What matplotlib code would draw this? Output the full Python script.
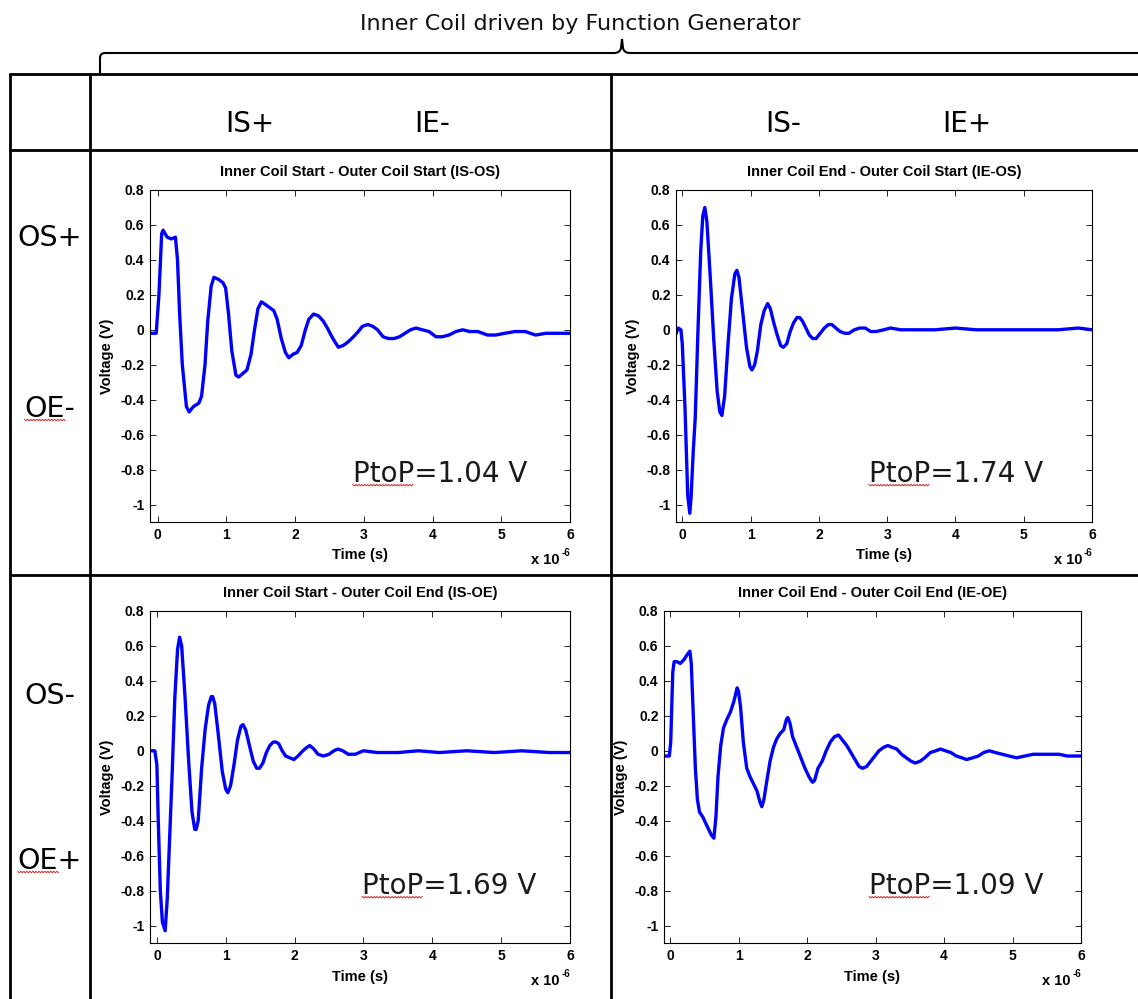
import numpy as np
import matplotlib.pyplot as plt
from matplotlib.lines import Line2D
from matplotlib.path import Path
from matplotlib.patches import PathPatch

W, H = 1138, 999

# scope traces: time in microseconds, voltage in volts
t_is_os = [-0.11, -0.02, 0.02, 0.06, 0.08, 0.14, 0.20, 0.26, 0.29, 0.32,
           0.36, 0.42, 0.46, 0.52, 0.60, 0.64, 0.69, 0.73, 0.78, 0.82,
           0.88, 0.95, 0.99, 1.03, 1.08, 1.14, 1.18, 1.24, 1.30, 1.36,
           1.41, 1.46, 1.51, 1.55, 1.62, 1.69, 1.74, 1.80, 1.86, 1.91,
           1.97, 2.03, 2.09, 2.15, 2.20, 2.27, 2.34, 2.41, 2.47, 2.55,
           2.63, 2.70, 2.77, 2.85, 2.92, 2.98, 3.06, 3.13, 3.20, 3.28,
           3.36, 3.44, 3.52, 3.60, 3.68, 3.76, 3.85, 3.95, 4.05, 4.14,
           4.24, 4.34, 4.44, 4.54, 4.66, 4.80, 4.92, 5.05, 5.20, 5.35,
           5.50, 5.65, 5.80, 5.92, 6.00]
v_is_os = [-0.02, -0.02, 0.20, 0.55, 0.57, 0.53, 0.52, 0.53, 0.40, 0.10,
           -0.20, -0.44, -0.47, -0.44, -0.42, -0.38, -0.20, 0.05, 0.25, 0.30,
           0.29, 0.27, 0.24, 0.10, -0.12, -0.26, -0.27, -0.25, -0.23, -0.14,
           0.00, 0.12, 0.16, 0.15, 0.13, 0.11, 0.06, -0.05, -0.13, -0.16,
           -0.14, -0.13, -0.09, 0.00, 0.06, 0.09, 0.08, 0.05, 0.01, -0.05,
           -0.10, -0.09, -0.07, -0.04, -0.01, 0.02, 0.03, 0.02, 0.00, -0.04,
           -0.05, -0.05, -0.04, -0.02, 0.00, 0.01, 0.00, -0.01, -0.04, -0.04,
           -0.03, -0.01, 0.00, -0.01, -0.01, -0.03, -0.03, -0.02, -0.01, -0.01,
           -0.03, -0.02, -0.02, -0.02, -0.02]

t_ie_os = [-0.09, -0.06, -0.02, 0.00, 0.04, 0.08, 0.11, 0.13, 0.16, 0.19,
           0.23, 0.27, 0.30, 0.33, 0.36, 0.41, 0.46, 0.51, 0.55, 0.58,
           0.62, 0.67, 0.72, 0.77, 0.80, 0.83, 0.88, 0.94, 0.99, 1.02,
           1.06, 1.10, 1.15, 1.20, 1.25, 1.29, 1.34, 1.39, 1.44, 1.48,
           1.53, 1.58, 1.63, 1.68, 1.72, 1.76, 1.81, 1.86, 1.91, 1.96,
           2.02, 2.08, 2.14, 2.19, 2.25, 2.31, 2.38, 2.44, 2.52, 2.60,
           2.68, 2.76, 2.84, 2.95, 3.05, 3.20, 3.40, 3.70, 4.00, 4.30,
           4.70, 5.10, 5.50, 5.80, 6.00]
v_ie_os = [-0.02, 0.01, 0.00, -0.08, -0.45, -0.95, -1.05, -0.95, -0.70, -0.50,
           0.00, 0.45, 0.65, 0.70, 0.62, 0.30, -0.05, -0.35, -0.47, -0.49,
           -0.38, -0.08, 0.18, 0.32, 0.34, 0.30, 0.12, -0.10, -0.21, -0.23,
           -0.20, -0.12, 0.03, 0.11, 0.15, 0.12, 0.04, -0.03, -0.09, -0.10,
           -0.08, -0.01, 0.04, 0.07, 0.07, 0.05, 0.01, -0.03, -0.05, -0.05,
           -0.02, 0.01, 0.03, 0.03, 0.01, -0.01, -0.02, -0.02, 0.00, 0.01,
           0.01, -0.01, -0.01, 0.00, 0.01, 0.00, 0.00, 0.00, 0.01, 0.00,
           0.00, 0.00, 0.00, 0.01, 0.00]

t_is_oe = [-0.10, -0.03, 0.00, 0.02, 0.05, 0.08, 0.12, 0.15, 0.18, 0.22,
           0.26, 0.30, 0.33, 0.36, 0.41, 0.46, 0.51, 0.55, 0.57, 0.60,
           0.65, 0.70, 0.75, 0.79, 0.81, 0.84, 0.89, 0.95, 1.00, 1.03,
           1.07, 1.12, 1.17, 1.22, 1.25, 1.29, 1.35, 1.40, 1.45, 1.49,
           1.54, 1.59, 1.64, 1.69, 1.73, 1.77, 1.82, 1.87, 1.93, 1.99,
           2.05, 2.12, 2.18, 2.22, 2.28, 2.34, 2.42, 2.50, 2.57, 2.63,
           2.70, 2.78, 2.88, 3.00, 3.20, 3.50, 3.80, 4.10, 4.50, 4.90,
           5.30, 5.70, 6.00]
v_is_oe = [0.00, 0.00, -0.08, -0.40, -0.80, -0.98, -1.03, -0.85, -0.55, -0.15,
           0.30, 0.58, 0.65, 0.60, 0.30, -0.05, -0.35, -0.45, -0.45, -0.40,
           -0.10, 0.12, 0.26, 0.31, 0.31, 0.27, 0.10, -0.12, -0.22, -0.24,
           -0.20, -0.08, 0.06, 0.14, 0.15, 0.12, 0.02, -0.06, -0.10, -0.10,
           -0.07, -0.01, 0.03, 0.05, 0.05, 0.04, 0.00, -0.03, -0.04, -0.05,
           -0.03, 0.00, 0.02, 0.03, 0.01, -0.02, -0.03, -0.02, 0.00, 0.01,
           0.00, -0.02, -0.02, 0.00, -0.01, -0.01, 0.00, -0.01, 0.00, -0.01,
           0.00, -0.01, -0.01]

t_ie_oe = [-0.09, -0.01, 0.01, 0.04, 0.06, 0.10, 0.15, 0.20, 0.25, 0.29,
           0.31, 0.34, 0.37, 0.40, 0.43, 0.48, 0.54, 0.60, 0.64, 0.67,
           0.70, 0.74, 0.78, 0.83, 0.88, 0.93, 0.98, 1.00, 1.03, 1.07,
           1.12, 1.17, 1.22, 1.27, 1.31, 1.34, 1.37, 1.41, 1.46, 1.51,
           1.56, 1.61, 1.66, 1.70, 1.72, 1.75, 1.79, 1.85, 1.91, 1.97,
           2.03, 2.08, 2.11, 2.16, 2.22, 2.28, 2.34, 2.40, 2.46, 2.52,
           2.58, 2.64, 2.70, 2.76, 2.81, 2.87, 2.93, 2.99, 3.05, 3.12,
           3.18, 3.24, 3.31, 3.38, 3.45, 3.52, 3.58, 3.65, 3.72, 3.80,
           3.88, 3.95, 4.02, 4.10, 4.18, 4.26, 4.33, 4.42, 4.50, 4.58,
           4.66, 4.75, 4.85, 4.95, 5.06, 5.18, 5.30, 5.42, 5.55, 5.68,
           5.80, 5.90, 6.00]
v_ie_oe = [-0.03, -0.03, 0.05, 0.45, 0.51, 0.51, 0.50, 0.52, 0.55, 0.57,
           0.50, 0.20, -0.10, -0.28, -0.35, -0.38, -0.43, -0.48, -0.50, -0.38,
           -0.15, 0.03, 0.13, 0.18, 0.22, 0.28, 0.36, 0.34, 0.25, 0.05,
           -0.10, -0.15, -0.19, -0.23, -0.29, -0.32, -0.28, -0.18, -0.06, 0.02,
           0.07, 0.10, 0.12, 0.18, 0.19, 0.16, 0.08, 0.02, -0.04, -0.10,
           -0.15, -0.18, -0.17, -0.10, -0.06, 0.00, 0.05, 0.08, 0.09, 0.06,
           0.03, -0.01, -0.05, -0.09, -0.10, -0.09, -0.06, -0.03, 0.00, 0.02,
           0.03, 0.02, 0.01, -0.02, -0.04, -0.06, -0.07, -0.06, -0.04, -0.01,
           0.00, 0.01, 0.00, -0.01, -0.03, -0.04, -0.05, -0.04, -0.03, -0.01,
           0.00, -0.01, -0.02, -0.03, -0.04, -0.03, -0.02, -0.02, -0.02, -0.02,
           -0.03, -0.03, -0.03]

titles = ["Inner Coil Start - Outer Coil Start (IS-OS)",
          "Inner Coil End - Outer Coil Start (IE-OS)",
          "Inner Coil Start - Outer Coil End (IS-OE)",
          "Inner Coil End - Outer Coil End (IE-OE)"]
ptop = [1.04, 1.74, 1.69, 1.09]
col_labels = ["IS+", "IE-", "IS-", "IE+"]
row_labels = ["OS+", "OE-", "OS-", "OE+"]
header = "Inner Coil driven by Function Generator"
yticks = [-1.0, -0.8, -0.6, -0.4, -0.2, 0.0, 0.2, 0.4, 0.6, 0.8]
ytick_labels = ["-1", "-0.8", "-0.6", "-0.4", "-0.2", "0", "0.2", "0.4", "0.6", "0.8"]
xticks = [0, 1, 2, 3, 4, 5, 6]

traces = [(t_is_os, v_is_os), (t_ie_os, v_ie_os), (t_is_oe, v_is_oe), (t_ie_oe, v_ie_oe)]

# panel boxes in pixels: left, top, right, bottom  + left x-limit (us)
boxes = [(150, 190, 570, 522, -0.11),
         (676, 190, 1092, 522, -0.092),
         (150, 611, 570, 943, -0.10),
         (664, 611, 1081, 943, -0.088)]
ptop_pos = [(0.483, 0.12), (0.464, 0.12), (0.505, 0.147), (0.492, 0.147)]

AX_FONT = "Liberation Sans"
SLIDE_FONT = "DejaVu Sans"

fig = plt.figure(figsize=(W / 100, H / 100), dpi=100)


def fx(x):
    return x / W


def fy(y):
    return 1 - y / H


def hline(y, x0, x1, lw=2.0):
    fig.add_artist(Line2D([fx(x0), fx(x1)], [fy(y), fy(y)], color="black", lw=lw,
                          transform=fig.transFigure, solid_capstyle="butt"))


def vline(x, y0, y1, lw=2.0):
    fig.add_artist(Line2D([fx(x), fx(x)], [fy(y0), fy(y1)], color="black", lw=lw,
                          transform=fig.transFigure, solid_capstyle="butt"))


# table grid
hline(74, 9, W)
hline(150, 9, W)
hline(575, 9, W)
vline(10, 73, H)
vline(90, 73, H)
vline(611, 73, H)

# curly brace over the two driven columns
verts = [(100, 73), (100, 58), (100, 53), (105, 53), (614, 53), (620, 53), (621, 48),
         (622, 39), (623, 48), (624, 53), (630, 53), (W, 53)]
codes = [Path.MOVETO, Path.LINETO, Path.CURVE3, Path.CURVE3, Path.LINETO, Path.CURVE3,
         Path.CURVE3, Path.LINETO, Path.LINETO, Path.CURVE3, Path.CURVE3, Path.LINETO]
brace = Path([(fx(x), fy(y)) for x, y in verts], codes)
fig.add_artist(PathPatch(brace, fill=False, lw=1.5, edgecolor="black",
                         transform=fig.transFigure))

fig.text(fx(580), fy(30), header, fontsize=16, family=SLIDE_FONT, ha="center",
         va="baseline", color="#111111")

for lab, x in zip(col_labels, [250, 432, 783, 967]):
    fig.text(fx(x), fy(132), lab, fontsize=20, family=SLIDE_FONT, ha="center", va="baseline")

row_texts = []
for lab, y in zip(row_labels, [246, 417, 704, 869]):
    row_texts.append(fig.text(fx(50), fy(y), lab, fontsize=20.5, family=SLIDE_FONT,
                              ha="center", va="baseline"))

ptop_texts = []
for i, ((t, v), box, title) in enumerate(zip(traces, boxes, titles)):
    left, top, right, bottom, xmin = box
    ax = fig.add_axes([fx(left), fy(bottom), (right - left) / W, (bottom - top) / H])
    ax.plot(np.array(t) * 1e-6, v, color="#0000ff", lw=2.4)
    ax.set_xlim(xmin * 1e-6, 6e-6)
    ax.set_ylim(-1.1, 0.8)
    ax.set_yticks(yticks)
    ax.set_yticklabels(ytick_labels)
    ax.set_xticks(np.array(xticks) * 1e-6)
    ax.set_xticklabels([str(x) for x in xticks])
    ax.tick_params(direction="in", top=True, right=True, length=4, width=0.6,
                   labelsize=10, pad=4)
    for lbl in ax.get_xticklabels() + ax.get_yticklabels():
        lbl.set_fontweight("bold")
        lbl.set_family(AX_FONT)
    for sp in ax.spines.values():
        sp.set_linewidth(0.8)
    ax.set_title(title, fontsize=10.5, fontweight="bold", family=AX_FONT, pad=10)
    ax.set_xlabel("Time (s)", fontsize=10.5, fontweight="bold", family=AX_FONT, labelpad=5)
    ax.set_ylabel("Voltage (V)", fontsize=10.5, fontweight="bold", family=AX_FONT, labelpad=5)
    scale = ax.text(0.976, -0.128, "x 10", transform=ax.transAxes, ha="right",
                    va="baseline", fontsize=10.5, fontweight="bold", family=AX_FONT)
    ax.annotate("-6", xy=(1, 1.0), xycoords=scale, xytext=(1, 0), textcoords="offset points",
                ha="left", va="center", fontsize=7, fontweight="bold", family=AX_FONT)
    px, py = ptop_pos[i]
    ptop_texts.append(ax.text(px, py, f"PtoP={ptop[i]:.2f} V", transform=ax.transAxes,
                              fontsize=20, family=SLIDE_FONT, color="#1a1a1a",
                              ha="left", va="baseline"))

# red spell-check squiggles under a few words
fig.canvas.draw()
renderer = fig.canvas.get_renderer()


def squiggle(txt, prefix):
    tmp = fig.text(0, 0, prefix, fontproperties=txt.get_fontproperties())
    w = tmp.get_window_extent(renderer).width
    tmp.remove()
    bb = txt.get_window_extent(renderer)
    base = txt.get_transform().transform(txt.get_position())[1]
    xs = np.arange(bb.x0, bb.x0 + w + 0.1, 1.5)
    ys = base - 3 + np.where(np.arange(len(xs)) % 2 == 0, 0.7, -0.7)
    fig.add_artist(Line2D(xs / W, ys / H, transform=fig.transFigure,
                          color="#e02020", lw=0.7))


for txt in ptop_texts:
    squiggle(txt, "PtoP")
squiggle(row_texts[1], "OE")
squiggle(row_texts[3], "OE")

fig.savefig("out.png", dpi=100)
